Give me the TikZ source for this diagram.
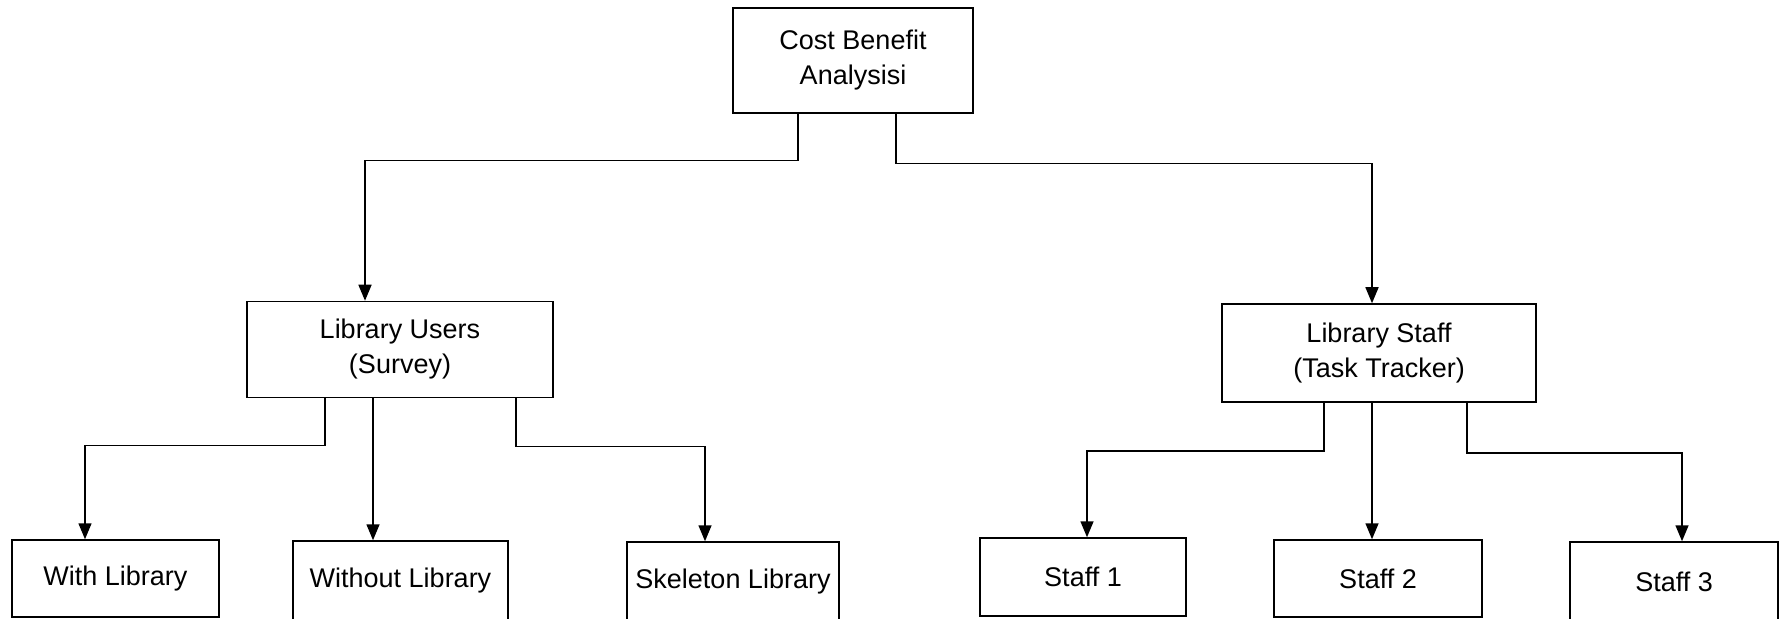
\documentclass[tikz,border=0pt]{standalone}
\usepackage{fontspec}
\setmainfont{Liberation Sans}
\usepackage{tikz}
\usetikzlibrary{arrows.meta,positioning,calc}
\tikzset{
  basebox/.style={rectangle,draw=black,line width=0.75pt,align=center,inner sep=0pt,
    font=\fontsize{13.5}{17.5}\selectfont},
  topbox/.style={basebox,minimum width=120pt,minimum height=52.5pt},
  groupbox/.style={basebox,minimum height=48pt},
  leafbox/.style={basebox,minimum height=38.5pt},
  cutbox/.style={basebox,minimum height=40pt},
  arr/.style={-{Triangle[length=8pt,width=6.5pt]},line width=0.75pt,color=black}
}

\begin{document}
\begin{tikzpicture}[x=0.5pt,y=-0.5pt]
  \path[use as bounding box,fill=white] (0,0) rectangle (1780,619);

  %% Root
  \node[topbox] (cba) at (853,60.5) {Cost Benefit\\Analysisi};

  %% Second level
  \node[groupbox,minimum width=153pt] (users) at (400,349.5) {Library Users\\(Survey)};
  \node[groupbox,minimum width=157pt,minimum height=49pt] (staff) at (1379,353)
    {Library Staff\\(Task Tracker)};

  %% Leaves -- users side
  \node[leafbox,minimum width=103.5pt] (withlib) at (115.5,578.5) {With Library};
  \node[cutbox,minimum width=107.5pt] (withoutlib) at (400.5,581) {Without Library};
  \node[cutbox,minimum width=106pt] (skellib) at (733,582) {Skeleton Library};

  %% Leaves -- staff side
  \node[leafbox,minimum width=103pt,minimum height=39pt] (staffone) at (1083,577) {Staff 1};
  \node[leafbox,minimum width=104pt] (stafftwo) at (1378,578.5) {Staff 2};
  \node[cutbox,minimum width=104pt] (staffthree) at (1674,582) {Staff 3};

  %% Connectors
  \draw[arr] ([xshift=-27.5pt]cba.south) -- ++(0,47) -| ([xshift=-17.5pt]users.north);
  \draw[arr] ([xshift=21.5pt]cba.south) -- ++(0,50) -| ([xshift=-3.5pt]staff.north);

  \draw[arr] ([xshift=-37.5pt]users.south) -- ++(0,47) -| ([xshift=-15.25pt]withlib.north);
  \draw[arr] ([xshift=-13.5pt]users.south) -- ([xshift=-13.5pt]users.south |- withoutlib.north);
  \draw[arr] ([xshift=58pt]users.south) -- ++(0,48) -| ([xshift=-14pt]skellib.north);

  \draw[arr] ([xshift=-27.5pt]staff.south) -- ++(0,48) -| ([xshift=2pt]staffone.north);
  \draw[arr] ([xshift=-3.5pt]staff.south) -- ([xshift=-3.5pt]staff.south |- stafftwo.north);
  \draw[arr] ([xshift=44pt]staff.south) -- ++(0,50) -| ([xshift=4pt]staffthree.north);
\end{tikzpicture}
\end{document}
